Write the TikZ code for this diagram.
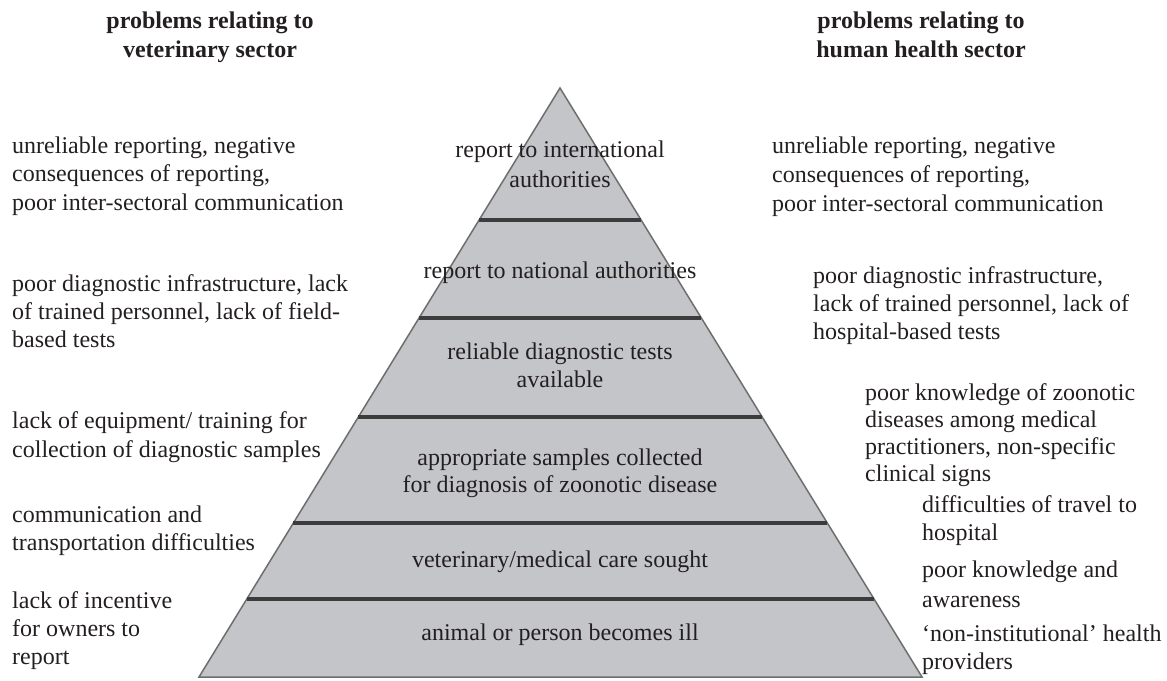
\documentclass[tikz,border=0pt]{standalone}
\usepackage{fontspec}
\setmainfont{Liberation Serif}
\usetikzlibrary{calc}
\definecolor{pyrfill}{HTML}{C4C5C8}
\definecolor{pyredge}{HTML}{6E6E6E}
\definecolor{divline}{HTML}{3C3C3C}
\definecolor{ink}{HTML}{231F20}
\begin{document}
\begin{tikzpicture}[x=1pt,y=-1pt,
  txt/.style={inner sep=0pt, align=left, anchor=base west, text=ink, font=\fontsize{24}{28}\selectfont},
  ctr/.style={inner sep=0pt, align=center, anchor=base, text=ink, font=\fontsize{24}{28}\selectfont},
  hdr/.style={inner sep=0pt, align=center, anchor=base, text=ink, font=\fontsize{24}{29}\selectfont\bfseries},
  pyr/.style={fill=pyrfill, draw=pyredge, line width=1.5pt, line join=miter},
  divider/.style={draw=divline, line width=3.5pt}]
\useasboundingbox (0,0) rectangle (1167,680);
% pyramid
\coordinate (A) at (560,88);
\coordinate (BL) at (199,677);
\coordinate (BR) at (922,677);
\filldraw[pyr] (A) -- (BR) -- (BL) -- cycle;
\foreach \t [count=\i] in {0.2241,0.3905,0.5586,0.7385,0.8676}{
  \coordinate (dl\i) at ($(A)!\t!(BL)$);
  \coordinate (dr\i) at ($(A)!\t!(BR)$);
  \draw[divider] (dl\i) -- (dr\i);
}
% headers (y = baseline of last line)
\node[hdr] (hl) at (210,57) {problems relating to\\veterinary sector};
\node[hdr] (hr) at (921,57) {problems relating to\\human health sector};
% centre labels
\node[ctr, font=\fontsize{24}{30}\selectfont] (c1) at (560,187) {report to international\\authorities};
\node[ctr] (c2) at (560,278) {report to national authorities};
\node[ctr] (c3) at (560,387) {reliable diagnostic tests\\available};
\node[ctr, font=\fontsize{24}{27}\selectfont] (c4) at (560,492) {appropriate samples collected\\for diagnosis of zoonotic disease};
\node[ctr] (c5) at (560,567) {veterinary/medical care sought};
\node[ctr] (c6) at (560,640) {animal or person becomes ill};
% left column
\node[txt, font=\fontsize{24}{28.5}\selectfont] (l1) at (12,210) {unreliable reporting, negative\\consequences of reporting,\\poor inter-sectoral communication};
\node[txt] (l2) at (12,347) {poor diagnostic infrastructure, lack\\of trained personnel, lack of field-\\based tests};
\node[txt, font=\fontsize{24}{29}\selectfont] (l3) at (12,457) {lack of equipment/ training for\\collection of diagnostic samples};
\node[txt] (l4) at (12,550) {communication and\\transportation difficulties};
\node[txt] (l5) at (12,664) {lack of incentive\\for owners to\\report};
% right column
\node[txt, font=\fontsize{24}{29}\selectfont] (r1) at (772,211) {unreliable reporting, negative\\consequences of reporting,\\poor inter-sectoral communication};
\node[txt] (r2) at (813,339) {poor diagnostic infrastructure,\\lack of trained personnel, lack of\\hospital-based tests};
\node[txt, font=\fontsize{24}{27}\selectfont] (r3) at (865,481) {poor knowledge of zoonotic\\diseases among medical\\practitioners, non-specific\\clinical signs};
\node[txt] (r4) at (922,540) {difficulties of travel to\\hospital};
\node[txt, font=\fontsize{24}{30}\selectfont] (r5) at (922,607) {poor knowledge and\\awareness};
\node[txt] (r6) at (922,669) {‘non-institutional’ health\\providers};
\end{tikzpicture}
\end{document}
